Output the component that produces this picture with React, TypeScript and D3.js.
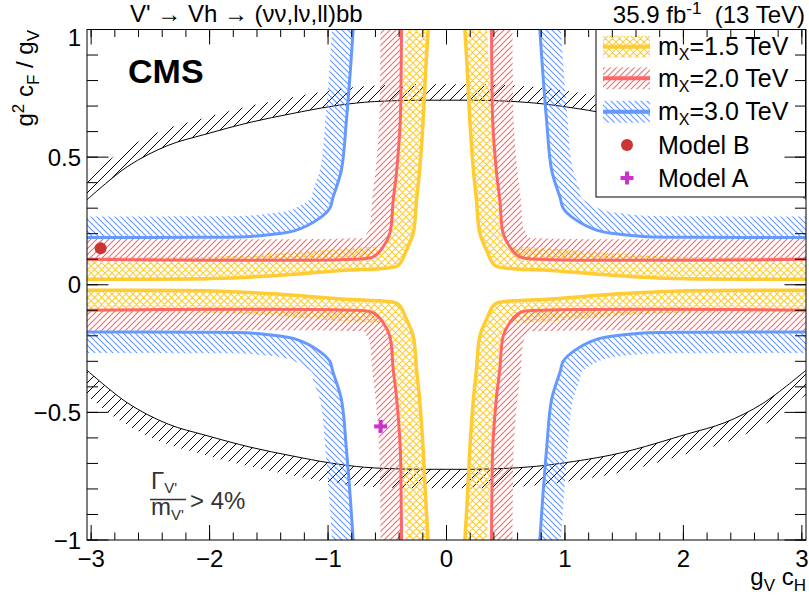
import React from "react";
import * as d3 from "d3";

const FONT = "'Liberation Sans', Arial, Helvetica, sans-serif";

// ---- axes ----
const X_MIN = -3.035;
const X_MAX = 3.035;
const Y_MIN = -1;
const Y_MAX = 1;
const xMajor = [-3, -2, -1, 0, 1, 2, 3];
const xLabels = ["−3", "−2", "−1", "0", "1", "2", "3"];
const yMajor = [-1, -0.5, 0, 0.5, 1];
const yLabels = ["−1", "−0.5", "0", "0.5", "1"];

// ---- exclusion contours, read in the quadrant gV cH > 0, g²cF/gV > 0 ----
// (the limit depends only on |couplings|, so each contour is drawn in all four quadrants)
const m15X = [0.155, 0.178, 0.197, 0.225, 0.253, 0.281, 0.338, 0.408, 0.56, 0.845, 1.405, 1.97, 3.035];
const m15Y = [1.0, 0.82, 0.644, 0.46, 0.331, 0.202, 0.135, 0.076, 0.063, 0.057, 0.037, 0.024, 0.022];

const m20X = [0.38, 0.383, 0.39, 0.42, 0.45, 0.478, 0.535, 0.62, 0.845, 1.97, 3.035];
const m20Y = [1.0, 0.82, 0.644, 0.45, 0.331, 0.202, 0.148, 0.109, 0.099, 0.096, 0.1];

const m30X = [0.788, 0.81, 0.845, 0.887, 0.96, 0.985, 1.08, 1.28, 1.52, 1.69, 2.08, 3.035];
const m30Y = [1.0, 0.85, 0.644, 0.45, 0.34, 0.3, 0.258, 0.212, 0.195, 0.188, 0.186, 0.185];

const quadrantSigns = [
  [1, 1],
  [-1, 1],
  [1, -1],
  [-1, -1],
];

// ---- Γ/m > 4% boundary ----
const widthX = [-3.035, -2.69, -2.35, -2.04, -1.65, -1.31, -0.97, -0.69, -0.35, 0, 0.35, 0.69, 0.96, 1.46, 2.03, 2.35, 2.67, 3.035];
const widthTopY = [0.333, 0.464, 0.546, 0.589, 0.637, 0.67, 0.699, 0.715, 0.722, 0.723, 0.722, 0.714, 0.7, 0.66, 0.585, 0.54, 0.465, 0.335];
const widthBotY = [-0.335, -0.464, -0.546, -0.589, -0.637, -0.67, -0.699, -0.715, -0.722, -0.723, -0.722, -0.714, -0.7, -0.66, -0.585, -0.54, -0.465, -0.335];

// ---- benchmark models ----
const modelNames = ["Model B", "Model A"];
const modelX = [-2.92, -0.556];
const modelY = [0.143, -0.555];

const massLabels = ["1.5", "2.0", "3.0"];

type P = [number, number];

function offsetBand(pts: P[], w: number, cx: number, cy: number) {
  const n = pts.length;
  const normals = pts.map((_, i) => {
    const a = pts[Math.max(0, i - 1)];
    const b = pts[Math.min(n - 1, i + 1)];
    const dx = b[0] - a[0];
    const dy = b[1] - a[1];
    const L = Math.hypot(dx, dy) || 1;
    return [-dy / L, dx / L];
  });
  let s = 0;
  pts.forEach((p, i) => {
    s += normals[i][0] * (p[0] - cx) + normals[i][1] * (p[1] - cy);
  });
  const sign = s >= 0 ? 1 : -1;
  const off: P[] = pts.map((p, i) => [p[0] + sign * w * normals[i][0], p[1] + sign * w * normals[i][1]]);
  return off;
}

const slash = (p: number) => `M0,${p}L${p},0M-1,1L1,-1M${p - 1},${p + 1}L${p + 1},${p - 1}`;
const back = (p: number) => `M0,0L${p},${p}M-1,${p - 1}L1,${p + 1}M${p - 1},-1L${p + 1},1`;

function Hatch({ id, p, color, kind, sw }: { id: string; p: number; color: string; kind: string; sw: number }) {
  const d = kind === "s" ? slash(p) : kind === "b" ? back(p) : slash(p) + back(p);
  return (
    <pattern id={id} patternUnits="userSpaceOnUse" x={0} y={0} width={p} height={p}>
      <path d={d} stroke={color} strokeWidth={sw} fill="none" />
    </pattern>
  );
}

export default function App() {
  const L = 87;
  const R = 806;
  const T = 29.5;
  const B = 540;
  const x = d3.scaleLinear().domain([X_MIN, X_MAX]).range([L, R]);
  const y = d3.scaleLinear().domain([Y_MIN, Y_MAX]).range([B, T]);
  const cx = x(0);
  const cy = y(0);
  const line = d3.line<P>().curve(d3.curveCatmullRom.alpha(0.5));

  const bandPath = (pts: P[], w: number) => {
    const off = offsetBand(pts, w, cx, cy).reverse();
    const a = line(pts) || "";
    const b = (line(off) || "").replace(/^M/, "L");
    return a + b + "Z";
  };

  const series = [
    { X: m15X, Y: m15Y, color: "#ffcc33", pat: "patY", lw: 3.5, w: 22 },
    { X: m20X, Y: m20Y, color: "#ff6666", pat: "patR", lw: 3, w: 21 },
    { X: m30X, Y: m30Y, color: "#6699ff", pat: "patB", lw: 3, w: 21 },
  ];

  const widthCurves = [
    { Y: widthTopY, w: 16 },
    { Y: widthBotY, w: 19 },
  ];

  const xMinor = d3.range(-3, 3.0001, 0.2);
  const yMinor = d3.range(-1, 1.0001, 0.1);

  const legX0 = 596;
  const legY0 = T;
  const legX1 = 805.5;
  const legY1 = 197;
  const rowY = [46.7, 78.3, 111.7, 145, 178];

  return (
    <svg
      width={809}
      height={600}
      style={{ position: "absolute", left: 0, top: 0, display: "block" }}
      fontFamily={FONT}
    >
      <defs>
        <clipPath id="plotClip">
          <rect x={L} y={T} width={R - L} height={B - T} />
        </clipPath>
        <Hatch id="patK" p={10} color="#000" kind="s" sw={1} />
        <Hatch id="patY" p={7} color="#ffcc33" kind="x" sw={1.1} />
        <Hatch id="patR" p={6} color="#ff6666" kind="s" sw={1.1} />
        <Hatch id="patB" p={6} color="#6699ff" kind="b" sw={1.1} />
      </defs>

      <rect x={0} y={0} width={809} height={600} fill="#fff" />

      <g clipPath="url(#plotClip)">
        {widthCurves.map((c, i) => {
          const pts: P[] = widthX.map((v, k) => [x(v), y(c.Y[k])]);
          return (
            <g key={"w" + i}>
              <path d={bandPath(pts, c.w)} fill="url(#patK)" stroke="none" />
              <path d={line(pts) || ""} fill="none" stroke="#000" strokeWidth={1} />
            </g>
          );
        })}
        {series.map((s, si) =>
          quadrantSigns.map(([sx, sy], qi) => {
            const pts: P[] = s.X.map((v, k) => [x(sx * v), y(sy * s.Y[k])]);
            return (
              <g key={`s${si}q${qi}`}>
                <path d={bandPath(pts, s.w)} fill={`url(#${s.pat})`} stroke="none" />
                <path d={line(pts) || ""} fill="none" stroke={s.color} strokeWidth={s.lw} />
              </g>
            );
          })
        )}
        {/* Model B */}
        <circle cx={x(modelX[0])} cy={y(modelY[0])} r={6} fill="#cc3333" />
        {/* Model A */}
        <g transform={`translate(${x(modelX[1])},${y(modelY[1])})`}>
          <rect x={-6.5} y={-2} width={13} height={4} fill="#cc33cc" />
          <rect x={-2} y={-6.5} width={4} height={13} fill="#cc33cc" />
        </g>
      </g>

      {/* Γ/m > 4% text */}
      <g fill="#333" fontSize={24}>
        <text x={151} y={489}>
          Γ<tspan fontSize={15} dy={4}>V'</tspan>
        </text>
        <line x1={150} x2={186} y1={499.5} y2={499.5} stroke="#333" strokeWidth={1.5} />
        <text x={151} y={515}>
          m<tspan fontSize={15} dy={5}>V'</tspan>
        </text>
        <text x={190} y={509}>
          {"> 4%"}
        </text>
      </g>

      {/* CMS */}
      <text x={128} y={83} fontSize={34} fontWeight="bold" fill="#000">
        CMS
      </text>

      {/* legend */}
      <rect x={legX0} y={legY0} width={legX1 - legX0} height={legY1 - legY0} fill="#fff" stroke="#000" strokeWidth={1} />
      {series.map((s, i) => (
        <g key={"leg" + i}>
          <rect x={603} y={rowY[i] - 11} width={47} height={22} fill={`url(#${s.pat})`} />
          <line x1={603} x2={650} y1={rowY[i]} y2={rowY[i]} stroke={s.color} strokeWidth={4} />
          <text x={658} y={rowY[i] + 8.5} fontSize={25} fill="#000">
            m<tspan fontSize={16} dy={5}>X</tspan>
            <tspan dy={-5}>{`=${massLabels[i]} TeV`}</tspan>
          </text>
        </g>
      ))}
      <circle cx={627} cy={rowY[3]} r={6} fill="#cc3333" />
      <g transform={`translate(627,${rowY[4]})`}>
        <rect x={-6.5} y={-2} width={13} height={4} fill="#cc33cc" />
        <rect x={-2} y={-6.5} width={4} height={13} fill="#cc33cc" />
      </g>
      {modelNames.map((nm, i) => (
        <text key={nm} x={658} y={rowY[3 + i] + 8.5} fontSize={25} fill="#000">
          {nm}
        </text>
      ))}

      {/* frame and ticks */}
      <g stroke="#000" strokeWidth={1} fill="none">
        <rect x={L} y={T} width={R - L} height={B - T} />
        {xMinor.map((v) => (
          <g key={"xm" + v}>
            <line x1={x(v)} x2={x(v)} y1={B} y2={B - 7.5} />
            <line x1={x(v)} x2={x(v)} y1={T} y2={T + 7.5} />
          </g>
        ))}
        {xMajor.map((v) => (
          <g key={"xM" + v}>
            <line x1={x(v)} x2={x(v)} y1={B} y2={B - 15} />
            <line x1={x(v)} x2={x(v)} y1={T} y2={T + 15} />
          </g>
        ))}
        {yMinor.map((v) => (
          <g key={"ym" + v}>
            <line x1={L} x2={L + 11} y1={y(v)} y2={y(v)} />
            <line x1={R} x2={R - 11} y1={y(v)} y2={y(v)} />
          </g>
        ))}
        {yMajor.map((v) => (
          <g key={"yM" + v}>
            <line x1={L} x2={L + 21.5} y1={y(v)} y2={y(v)} />
            <line x1={R} x2={R - 21.5} y1={y(v)} y2={y(v)} />
          </g>
        ))}
      </g>

      {/* tick labels */}
      <g fontSize={24} fill="#000">
        {xMajor.map((v, i) => (
          <text key={"xl" + v} x={x(v)} y={567} textAnchor="middle">
            {xLabels[i]}
          </text>
        ))}
        {yMajor.map((v, i) => (
          <text key={"yl" + v} x={81} y={y(v) + 8.5 + (v === 1 ? 8 : 0)} textAnchor="end">
            {yLabels[i]}
          </text>
        ))}
      </g>

      {/* axis titles */}
      <text x={806} y={585} textAnchor="end" fontSize={24} fill="#000">
        g<tspan fontSize={17} dy={6}>V</tspan>
        <tspan dy={-6}> c</tspan>
        <tspan fontSize={17} dy={6}>H</tspan>
      </text>
      <text transform="translate(33,30) rotate(-90)" textAnchor="end" fontSize={24} fill="#000">
        g<tspan fontSize={17} dy={-9}>2</tspan>
        <tspan dy={9}> c</tspan>
        <tspan fontSize={17} dy={6}>F</tspan>
        <tspan dy={-6}> / g</tspan>
        <tspan fontSize={17} dy={6}>V</tspan>
      </text>

      {/* header */}
      <text x={130} y={22} fontSize={24} fill="#000">
        V' → Vh → (νν,lν,ll)bb
      </text>
      <text x={805} y={23} textAnchor="end" fontSize={24} fill="#000" style={{ whiteSpace: "pre" }}>
        35.9 fb<tspan fontSize={17} dy={-9}>-1</tspan>
        <tspan dy={9}>{"  (13 TeV)"}</tspan>
      </text>
    </svg>
  );
}
